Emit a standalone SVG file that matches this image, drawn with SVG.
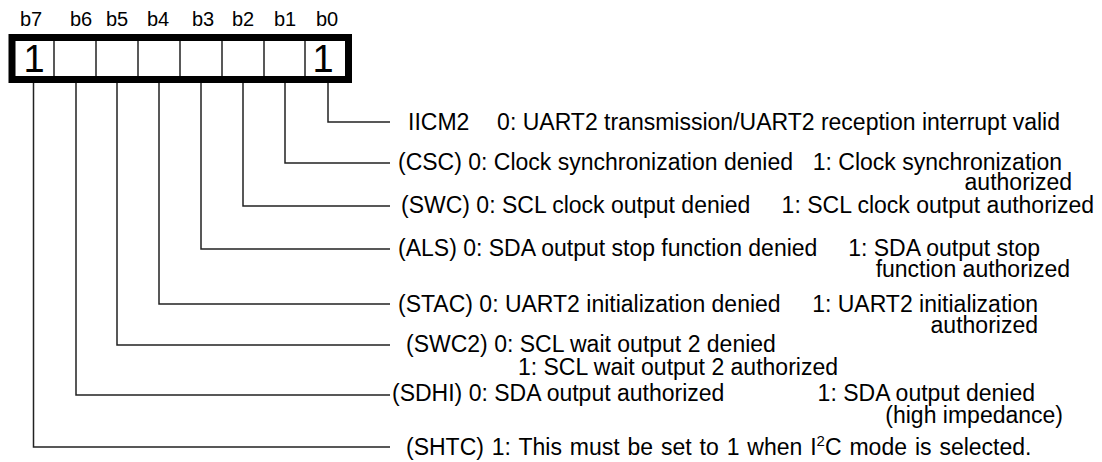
<svg xmlns="http://www.w3.org/2000/svg" width="1102" height="462" viewBox="0 0 1102 462">
<style>
text{font-family:"Liberation Sans",Arial,sans-serif;fill:#000}
.lbl{font-size:20px}
.t{font-size:23px}
.e{text-anchor:end}
.big{font-size:38px}
.cn{fill:none;stroke:#222;stroke-width:1.5}
.cell{stroke:#222;stroke-width:1.5}
</style>
<rect width="1102" height="462" fill="#fff"/>
<g id="register">
<rect x="12" y="37.5" width="336.5" height="42" fill="#fff" stroke="#000" stroke-width="7"/>
<line class="cell" x1="54" y1="41" x2="54" y2="76"/>
<line class="cell" x1="96" y1="41" x2="96" y2="76"/>
<line class="cell" x1="138" y1="41" x2="138" y2="76"/>
<line class="cell" x1="180" y1="41" x2="180" y2="76"/>
<line class="cell" x1="222" y1="41" x2="222" y2="76"/>
<line class="cell" x1="264" y1="41" x2="264" y2="76"/>
<line class="cell" x1="305" y1="41" x2="305" y2="76"/>
<text class="big" x="34" y="72" text-anchor="middle">1</text>
<text class="big" x="323" y="72" text-anchor="middle">1</text>
<text class="lbl" x="31" y="26" text-anchor="middle">b7</text>
<text class="lbl" x="81" y="26" text-anchor="middle">b6</text>
<text class="lbl" x="117" y="26" text-anchor="middle">b5</text>
<text class="lbl" x="158" y="26" text-anchor="middle">b4</text>
<text class="lbl" x="203" y="26" text-anchor="middle">b3</text>
<text class="lbl" x="243" y="26" text-anchor="middle">b2</text>
<text class="lbl" x="285" y="26" text-anchor="middle">b1</text>
<text class="lbl" x="327" y="26" text-anchor="middle">b0</text>
</g>
<g id="connectors">
<polyline class="cn" points="328,83 328,122 390,122"/>
<polyline class="cn" points="285,83 285,163 390,163"/>
<polyline class="cn" points="243,83 243,206 390,206"/>
<polyline class="cn" points="201,83 201,249 390,249"/>
<polyline class="cn" points="159,83 159,304 390,304"/>
<polyline class="cn" points="117,83 117,345 390,345"/>
<polyline class="cn" points="76,83 76,395 390,395"/>
<polyline class="cn" points="33.5,83 33.5,447 390,447"/>
</g>
<g id="b0">
<text class="t" x="408" y="130">IICM2</text>
<text class="t e" x="1060" y="130">0: UART2 transmission/UART2 reception interrupt valid</text>
</g>
<g id="b1">
<text class="t" x="398" y="170">(CSC) 0: Clock synchronization denied</text>
<text class="t e" x="1062" y="170">1: Clock synchronization</text>
<text class="t e" x="1072" y="190">authorized</text>
</g>
<g id="b2">
<text class="t" x="401" y="213">(SWC) 0: SCL clock output denied</text>
<text class="t e" x="1094" y="213">1: SCL clock output authorized</text>
</g>
<g id="b3">
<text class="t" x="398" y="256">(ALS) 0: SDA output stop function denied</text>
<text class="t e" x="1040" y="256">1: SDA output stop</text>
<text class="t e" x="1070" y="277">function authorized</text>
</g>
<g id="b4">
<text class="t" x="398" y="312">(STAC) 0: UART2 initialization denied</text>
<text class="t e" x="1038" y="312">1: UART2 initialization</text>
<text class="t e" x="1038" y="333">authorized</text>
</g>
<g id="b5">
<text class="t" x="406" y="352">(SWC2) 0: SCL wait output 2 denied</text>
<text class="t e" x="838" y="375">1: SCL wait output 2 authorized</text>
</g>
<g id="b6">
<text class="t" x="392" y="401">(SDHI) 0: SDA output authorized</text>
<text class="t e" x="1035" y="401">1: SDA output denied</text>
<text class="t e" x="1063" y="423">(high impedance)</text>
</g>
<g id="b7">
<text class="t" x="406" y="455" word-spacing="1.5">(SHTC) 1: This must be set to 1 when I<tspan font-size="15px" dy="-9">2</tspan><tspan dy="9">C mode is selected.</tspan></text>
</g>
</svg>
